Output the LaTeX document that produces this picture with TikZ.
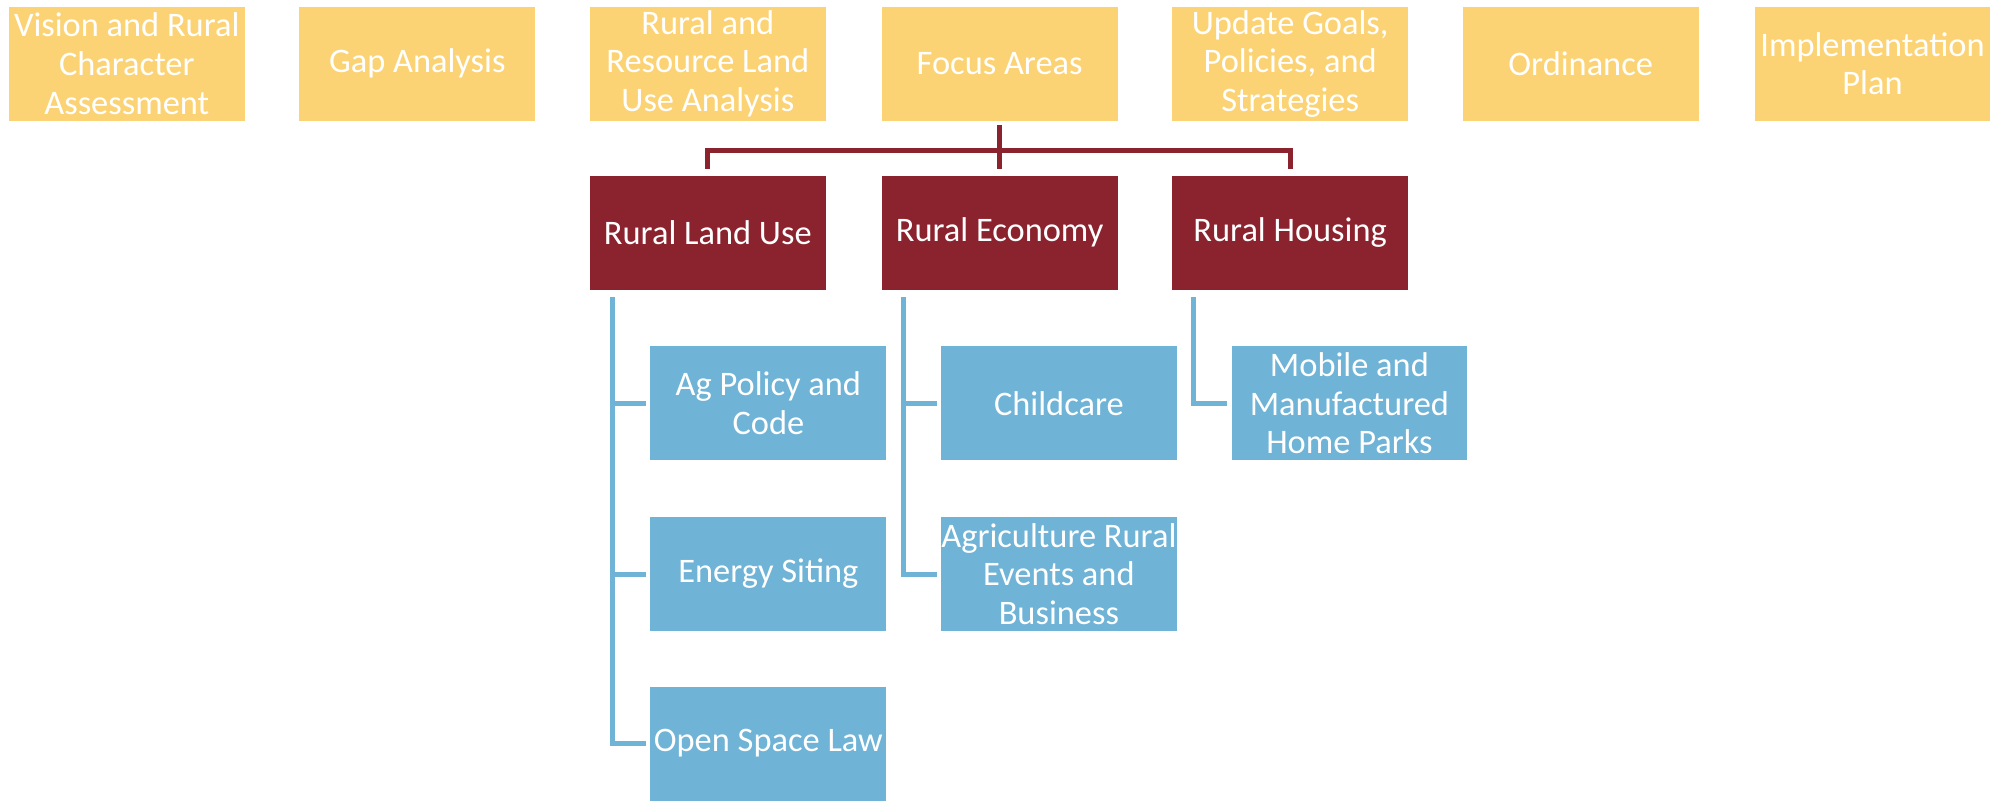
\documentclass[tikz,border=0pt]{standalone}
\usepackage{fontspec}
\setmainfont{Carlito}
\definecolor{gold}{RGB}{252,211,116}
\definecolor{wine}{RGB}{139,35,46}
\definecolor{sky}{RGB}{111,179,214}
\tikzset{
  boxbase/.style={rectangle, inner sep=0pt, minimum width=117.9pt, minimum height=57pt,
    align=center, text=white, font=\fontsize{17.2}{19.3}\selectfont},
  ybox/.style={boxbase, fill=gold},
  rbox/.style={boxbase, fill=wine},
  bbox/.style={boxbase, fill=sky},
  redline/.style={draw=wine, line width=2.5pt},
  blueline/.style={draw=sky, line width=2.5pt, line join=miter},
}
\begin{document}
\begin{tikzpicture}[x=0.6371pt, y=-0.6371pt]
\useasboundingbox (0,0) rectangle (1568,628);
% top row
\node[ybox] (vis) at (99.5,50) {Vision and Rural\\Character\\Assessment};
\node[ybox] (gap) at (327.5,50) {Gap Analysis};
\node[ybox] (rrl) at (555.5,50) {Rural and\\Resource Land\\Use Analysis};
\node[ybox] (foc) at (784.5,50) {Focus Areas};
\node[ybox] (upd) at (1012.5,50) {Update Goals,\\Policies, and\\Strategies};
\node[ybox] (ord) at (1240.5,50) {Ordinance};
\node[ybox] (imp) at (1469.5,50) {Implementation\\Plan};
% focus areas
\node[rbox] (rlu) at (555.5,182.5) {Rural Land Use};
\node[rbox] (rec) at (784.5,182.5) {Rural Economy};
\node[rbox] (rho) at (1012.5,182.5) {Rural Housing};
% sub topics
\node[bbox] (agp) at (603,316.5) {Ag Policy and\\Code};
\node[bbox] (ens) at (603,450.5) {Energy Siting};
\node[bbox] (osl) at (603,583.5) {Open Space Law};
\node[bbox] (chc) at (831,316.5) {Childcare};
\node[bbox] (agr) at (831,450.5) {Agriculture Rural\\Events and\\Business};
\node[bbox] (mob) at (1059,316.5) {Mobile and\\Manufactured\\Home Parks};
% red connectors
\coordinate (fj) at (784.5,118);
\draw[redline] ([shift={(0,3)}]foc.south) -- ([shift={(0,-5)}]rec.north);
\draw[redline] (fj) -| ([shift={(0,-5)}]rlu.north);
\draw[redline] (fj) -| ([shift={(0,-5)}]rho.north);
% blue connectors
\coordinate (t1) at (481,233);
\coordinate (t2) at (709,233);
\coordinate (t3) at (937,233);
\draw[blueline] (t1) |- ([shift={(-3,0)}]osl.west);
\draw[blueline] (t1 |- agp.west) -- ([shift={(-3,0)}]agp.west);
\draw[blueline] (t1 |- ens.west) -- ([shift={(-3,0)}]ens.west);
\draw[blueline] (t2) |- ([shift={(-3,0)}]agr.west);
\draw[blueline] (t2 |- chc.west) -- ([shift={(-3,0)}]chc.west);
\draw[blueline] (t3) |- ([shift={(-3,0)}]mob.west);
\end{tikzpicture}
\end{document}
